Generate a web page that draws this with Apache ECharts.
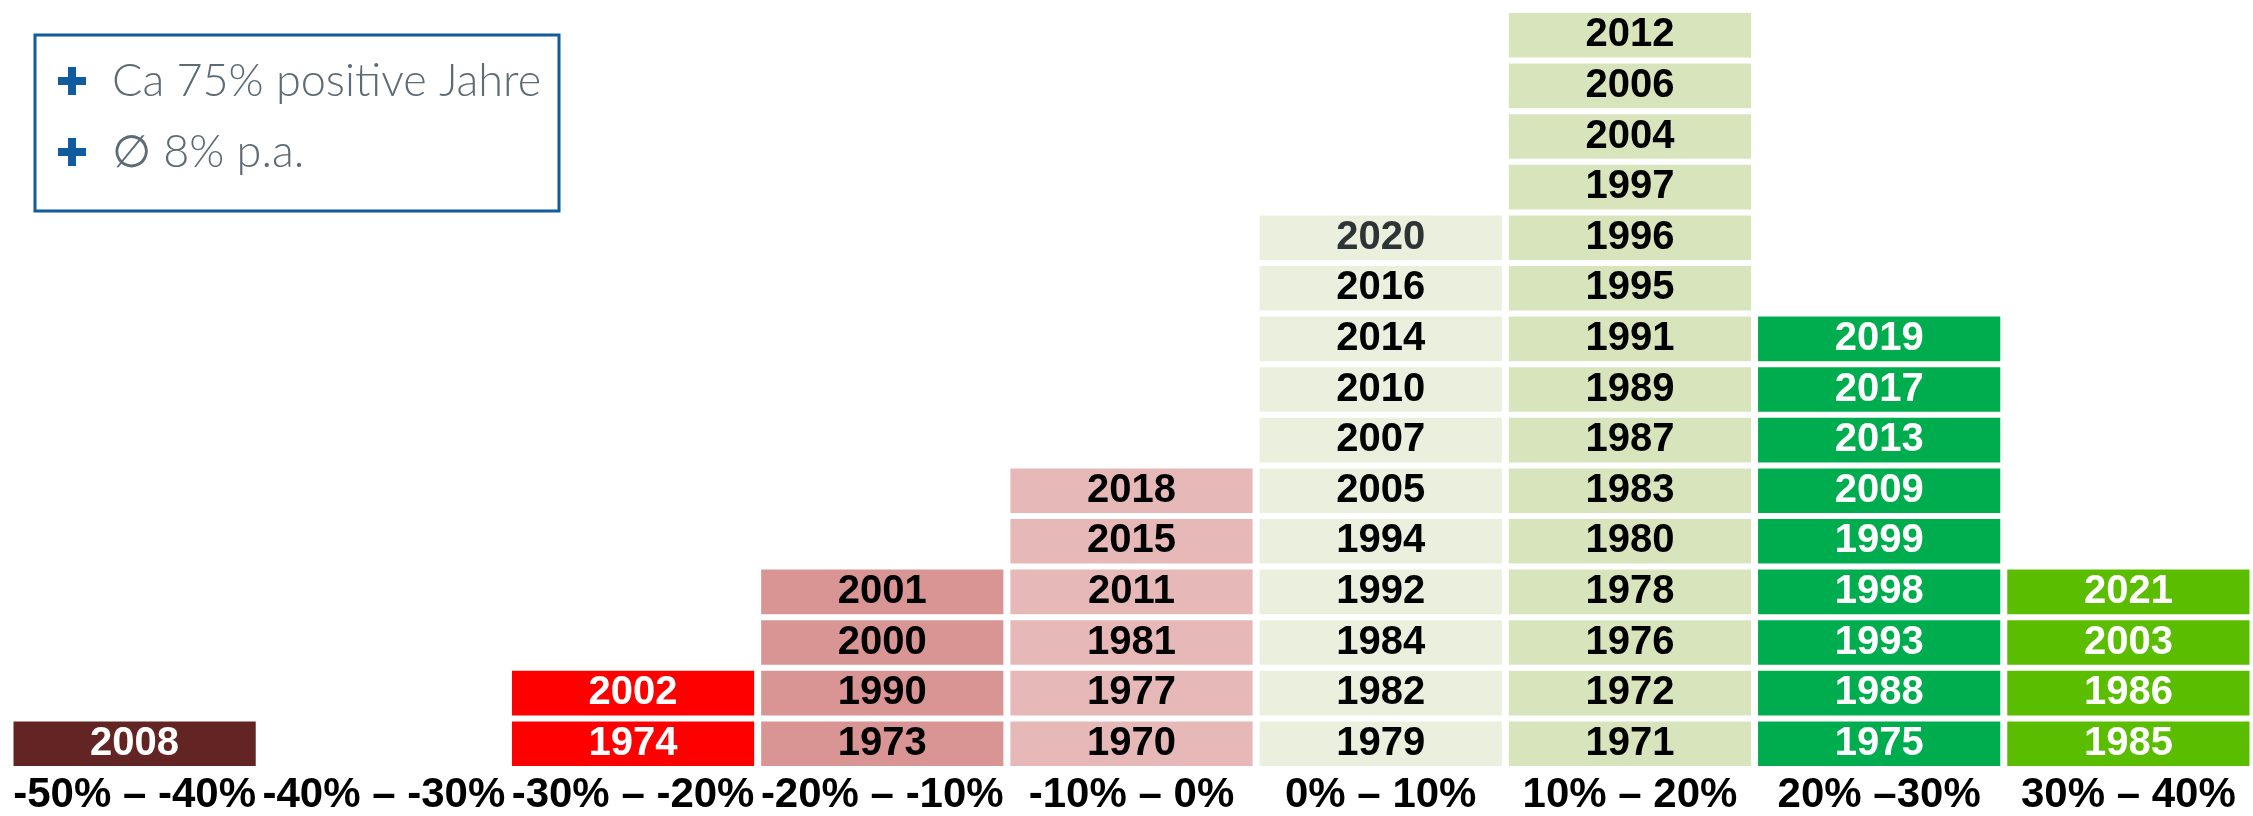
<!DOCTYPE html>
<html>
<head>
<meta charset="utf-8">
<script src="https://cdn.jsdelivr.net/npm/echarts@6/dist/echarts.min.js"></script>
<style>
  html, body { margin: 0; padding: 0; background: #fff; }
  #main { width: 2253px; height: 816px; }
</style>
</head>
<body>
<div id="main"></div>
<script>
// Renditeklassen (x-Achse)
var categories = ['-50% – -40%', '-40% – -30%', '-30% – -20%', '-20% – -10%', '-10% – 0%',
                  '0% – 10%', '10% – 20%', '20% –30%', '30% – 40%'];

// Jahre pro Klasse, von unten nach oben
var years_m50 = [2008];
var years_m40 = [];
var years_m30 = [1974, 2002];
var years_m20 = [1973, 1990, 2000, 2001];
var years_m10 = [1970, 1977, 1981, 2011, 2015, 2018];
var years_p0  = [1979, 1982, 1984, 1992, 1994, 2005, 2007, 2010, 2014, 2016, 2020];
var years_p10 = [1971, 1972, 1976, 1978, 1980, 1983, 1987, 1989, 1991, 1995, 1996, 1997, 2004, 2006, 2012];
var years_p20 = [1975, 1988, 1993, 1998, 1999, 2009, 2013, 2017, 2019];
var years_p30 = [1985, 1986, 2003, 2021];

var columns = [years_m50, years_m40, years_m30, years_m20, years_m10, years_p0, years_p10, years_p20, years_p30];

// farben
var fillColors = ['#632523', '#632523', '#ff0000', '#d99594', '#e6b9b8', '#ebf0de', '#d8e4bc', '#00ad4e', '#5bbd00'];
var textColors = ['#fff', '#fff', '#fff', '#000', '#000', '#000', '#000', '#fff', '#fff'];

var maxRows = 15;
var series = [];
for (var r = 0; r < maxRows; r++) {
    var data = columns.map(function (col, c) {
        if (col[r] === undefined) return '-';
        var yr = col[r];
        return {
            value: 1,
            year: yr,
            itemStyle: { color: fillColors[c] },
            label: { color: yr === 2020 ? '#2d3436' : textColors[c] }
        };
    });
    series.push({
        type: 'bar',
        stack: 'jahre',
        data: data,
        barCategoryGap: '0.4%',
        itemStyle: { borderColor: '#fff', borderWidth: 3 },
        label: {
            show: true,
            position: 'inside',
            fontFamily: 'Liberation Sans',
            fontWeight: 'bold',
            fontSize: 40,
            formatter: function (p) { return p.data.year; }
        },
        silent: true
    });
}

// plus-zeichen als zwei balken
function plus(cx, cy) {
    return [
        { type: 'rect', shape: { x: cx - 14, y: cy - 4, width: 28, height: 8 }, style: { fill: '#105c9e' } },
        { type: 'rect', shape: { x: cx - 4, y: cy - 14, width: 8, height: 28 }, style: { fill: '#105c9e' } }
    ];
}

var chart = echarts.init(document.getElementById('main'));
var option = {
    backgroundColor: '#fff',
    animation: false,
    grid: { left: 10, top: 10, width: 2252, bottom: 45, containLabel: false },
    xAxis: {
        type: 'category',
        data: categories,
        axisLine: { show: false },
        axisTick: { show: false },
        axisLabel: {
            interval: 0,
            margin: 5,
            fontFamily: 'Liberation Sans',
            fontWeight: 'bold',
            fontSize: 42,
            color: '#000'
        }
    },
    yAxis: {
        type: 'value',
        min: 0,
        max: maxRows,
        show: false
    },
    graphic: [
        {
            type: 'rect',
            shape: { x: 35, y: 35, width: 524, height: 176 },
            style: { fill: '#fff', stroke: '#105c9e', lineWidth: 3 }
        }
    ].concat(plus(72, 81), plus(72, 152), [
        {
            type: 'text', x: 112, y: 81,
            style: { text: 'Ca 75% positive Jahre', fill: '#5d6b75', font: '300 45px Lato', align: 'left', verticalAlign: 'middle' }
        },
        {
            type: 'text', x: 112, y: 152,
            style: { text: '∅ 8% p.a.', fill: '#5d6b75', font: '300 45px Lato', align: 'left', verticalAlign: 'middle' }
        }
    ]),
    series: series
};
chart.setOption(option);
</script>
</body>
</html>
